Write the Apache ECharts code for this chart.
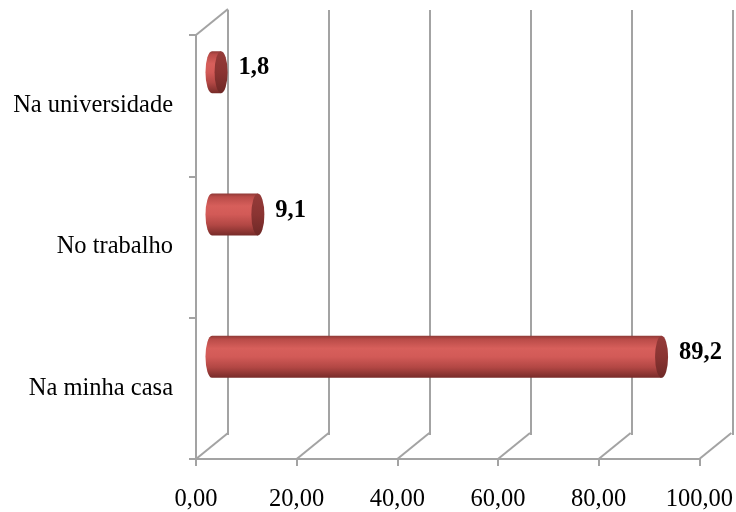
<!DOCTYPE html>
<html>
<head>
<meta charset="utf-8">
<script src="https://cdn.jsdelivr.net/npm/echarts@6/dist/echarts.min.js"></script>
<style>
  html, body { margin: 0; padding: 0; background: #ffffff; }
  #chart { width: 736px; height: 512px; }
</style>
</head>
<body>
<div id="chart"></div>
<script>
// Data
const categories = ['Na universidade', 'No trabalho', 'Na minha casa'];
const values = [1.8, 9.1, 89.2];
const xTicks = [0, 20, 40, 60, 80, 100];

const FONT = "'Liberation Serif', 'Times New Roman', serif";
const GRID_COLOR = '#a3a3a3';
const DEPTH = [32, -26];   // offset of the back wall relative to the front axes

const fmt = (v, d) => v.toFixed(d).replace('.', ',');

const chart = echarts.init(document.getElementById('chart'));

// Cylinder bar: body with a rounded left end and an elliptical right cap
function renderCylinder(params, api) {
  const v = api.value(0);
  const i = api.value(1);
  const p0 = api.coord([0, i]);
  const p1 = api.coord([v, i]);
  const band = api.size([0, 1])[1];
  const ry = band * 0.295 / 2;
  const rx = ry * 0.31;
  const top = p0[1] - ry, bot = p0[1] + ry;
  const x0 = p0[0], x1 = p1[0];
  const body = 'M' + x0 + ' ' + top + 'L' + x1 + ' ' + top + 'L' + x1 + ' ' + bot +
               'L' + x0 + ' ' + bot + 'A' + rx + ' ' + ry + ' 0 0 1 ' + x0 + ' ' + top + 'Z';
  const cap = 'M' + x1 + ' ' + top + 'A' + rx + ' ' + ry + ' 0 1 1 ' + x1 + ' ' + bot +
              'A' + rx + ' ' + ry + ' 0 1 1 ' + x1 + ' ' + top + 'Z';
  return {
    type: 'group',
    children: [
      {
        type: 'path',
        shape: { pathData: body },
        style: {
          fill: new echarts.graphic.LinearGradient(0, 0, 0, 1, [
            { offset: 0, color: '#8f3a37' },
            { offset: 0.08, color: '#b94b48' },
            { offset: 0.3, color: '#d75f5b' },
            { offset: 0.5, color: '#d25a57' },
            { offset: 0.75, color: '#b24744' },
            { offset: 1, color: '#772b29' }
          ])
        }
      },
      {
        type: 'path',
        shape: { pathData: cap },
        style: {
          fill: new echarts.graphic.LinearGradient(0, 0, 0, 1, [
            { offset: 0, color: '#953b39' },
            { offset: 0.5, color: '#8a3432' },
            { offset: 1, color: '#6e2826' }
          ])
        }
      },
      {
        type: 'text',
        x: x1 + rx + 11,
        y: p0[1] - 4,
        style: {
          text: fmt(v, 1),
          fontFamily: FONT,
          fontSize: 24.5,
          fontWeight: 'bold',
          fill: '#000',
          align: 'left',
          verticalAlign: 'middle'
        }
      }
    ]
  };
}

// Floor and top edges linking the front axes to the back wall
function renderDepthLines(params, api) {
  const cs = params.coordSys;
  const x = api.coord([api.value(0), 0])[0];
  const yb = cs.y + cs.height;
  const lineStyle = { stroke: GRID_COLOR, lineWidth: 2 };
  const children = [{
    type: 'line',
    shape: { x1: x, y1: yb, x2: x + DEPTH[0], y2: yb + DEPTH[1] },
    style: lineStyle
  }];
  if (params.dataIndex === 0) {
    children.push({
      type: 'line',
      shape: { x1: x, y1: cs.y, x2: x + DEPTH[0], y2: cs.y + DEPTH[1] },
      style: lineStyle
    });
  }
  return { type: 'group', children: children };
}

chart.setOption({
  animation: false,
  backgroundColor: '#ffffff',
  grid: [
    { left: 196, right: 35, top: 35, bottom: 51 },   // front axes
    { left: 228, right: 3, top: 10, bottom: 77 },    // back wall
    { left: 212, right: 20, top: 1, bottom: 84 }     // bars (mid depth)
  ],
  xAxis: [
    {
      gridIndex: 0, type: 'value', min: 0, max: 100, interval: 20,
      axisLine: { show: true, lineStyle: { color: GRID_COLOR, width: 2 } },
      axisTick: { show: true, length: 7, lineStyle: { color: GRID_COLOR, width: 2 } },
      splitLine: { show: false },
      axisLabel: { formatter: v => fmt(v, 2), fontFamily: FONT, fontSize: 24.5, color: '#000', margin: 28 }
    },
    {
      gridIndex: 1, type: 'value', min: 0, max: 100, interval: 20,
      axisLine: { show: false }, axisTick: { show: false }, axisLabel: { show: false },
      splitLine: { show: true, lineStyle: { color: GRID_COLOR, width: 2 } }
    },
    { gridIndex: 2, type: 'value', min: 0, max: 100, show: false }
  ],
  yAxis: [
    {
      gridIndex: 0, type: 'category', data: categories, inverse: true,
      axisLine: { show: true, lineStyle: { color: GRID_COLOR, width: 2 } },
      axisTick: { show: true, length: 7, lineStyle: { color: GRID_COLOR, width: 2 } },
      splitLine: { show: false },
      axisLabel: { fontFamily: FONT, fontSize: 24.5, color: '#000', margin: 23, padding: [6, 0, 0, 0] }
    },
    { gridIndex: 1, type: 'category', data: categories, inverse: true, show: false },
    { gridIndex: 2, type: 'category', data: categories, inverse: true, show: false }
  ],
  series: [
    {
      type: 'custom',
      xAxisIndex: 0, yAxisIndex: 0,
      silent: true,
      clip: false,
      z: 1,
      renderItem: renderDepthLines,
      data: xTicks.map(v => [v, 0])
    },
    {
      type: 'custom',
      xAxisIndex: 2, yAxisIndex: 2,
      silent: true,
      clip: false,
      z: 5,
      renderItem: renderCylinder,
      encode: { x: 0, y: 1 },
      data: values.map((v, i) => [v, i])
    }
  ]
});
</script>
</body>
</html>
